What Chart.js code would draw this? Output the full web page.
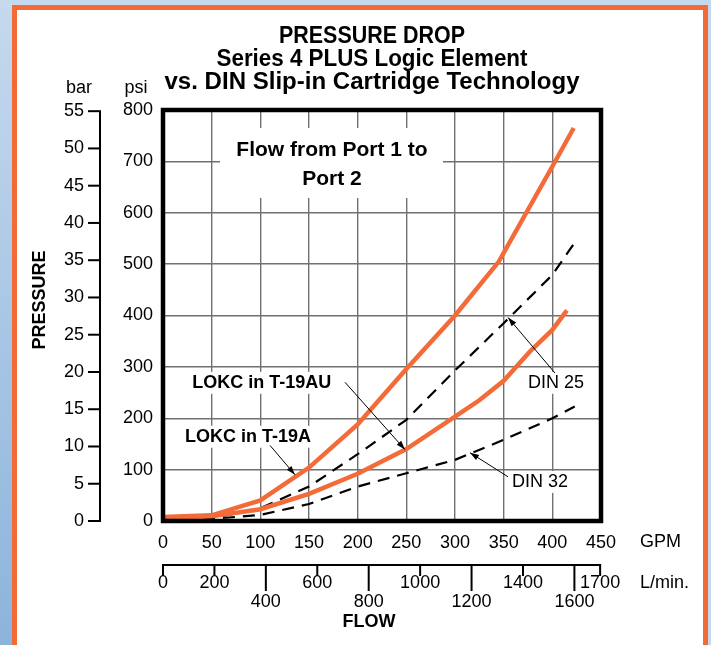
<!DOCTYPE html>
<html>
<head>
<meta charset="utf-8">
<script src="https://cdn.jsdelivr.net/npm/chart.js@4.4.1/dist/chart.umd.min.js"></script>
<style>
html, body { margin: 0; padding: 0; }
body { width: 711px; height: 645px; overflow: hidden; position: relative; background: #c5d9ee; }
#strip { position: absolute; left: 0; top: 0; width: 12px; height: 645px; background: linear-gradient(#c6d9ee, #8cb4db); }
#frame { position: absolute; left: 12px; top: 5px; width: 686px; height: 700px; border: 5px solid #f26a35; background: #fff; }
#wrap { position: absolute; left: 0; top: 0; width: 711px; height: 645px; }
</style>
</head>
<body>
<div id="strip"></div>
<div id="frame"></div>
<div id="wrap"><canvas id="pd"></canvas></div>
<script>
// values (GPM / psi)
const t19aFlow  = [0, 50, 100, 150, 200, 250, 300, 345, 400, 422];
const t19aPsi   = [8, 11, 40, 104, 188, 296, 400, 505, 690, 765];
const t19auFlow = [0, 50, 100, 150, 200, 250, 300, 325, 350, 377, 400, 415];
const t19auPsi  = [6, 9, 23, 53, 92, 140, 203, 235, 273, 330, 372, 410];
const din25Flow = [0, 50, 100, 150, 200, 250, 300, 350, 400, 423];
const din25Psi  = [0, 5, 25, 67, 130, 197, 293, 385, 479, 542];
const din32Flow = [0, 50, 100, 150, 200, 250, 300, 350, 400, 423];
const din32Psi  = [0, 4, 12, 33, 67, 93, 119, 158, 200, 223];

// secondary axes
const barTicks = [0, 5, 10, 15, 20, 25, 30, 35, 40, 45, 50, 55];
const lpmTicks = [0, 200, 400, 600, 800, 1000, 1200, 1400, 1600, 1700];
const lpmLow   = [400, 800, 1200, 1600];   // labels on the lower row
const PSI_PER_BAR = 14.5038;
const LPM_PER_GPM = 3.78541;

const titleLines = ['PRESSURE DROP', 'Series 4 PLUS Logic Element', 'vs. DIN Slip-in Cartridge Technology'];
const titleWidths = [186, 311, 415];

const FONT = "'Liberation Sans', Arial, Helvetica, sans-serif";
const ORANGE = '#f26b38';

function pts(xs, ys) { return xs.map((x, i) => ({ x: x, y: ys[i] })); }

// labels + arrows (in GPM / psi units)
const notes = [
  { text: 'LOKC in T-19AU', x: 30, y: 269, bold: true, from: [187, 270], to: [248.6, 139] },
  { text: 'LOKC in T-19A', x: 22.6, y: 164, bold: true, from: [110, 147], to: [135.6, 90] },
  { text: 'DIN 25', x: 375, y: 269, bold: false, from: [402.7, 288], to: [354.5, 396] },
  { text: 'DIN 32', x: 358.6, y: 76, bold: false, from: [354.5, 86], to: [315.4, 133] }
];

function arrow(ctx, x1, y1, x2, y2) {
  ctx.beginPath();
  ctx.moveTo(x1, y1);
  ctx.lineTo(x2, y2);
  ctx.stroke();
  const a = Math.atan2(y2 - y1, x2 - x1);
  ctx.beginPath();
  ctx.moveTo(x2, y2);
  ctx.lineTo(x2 - 9 * Math.cos(a) + 3 * Math.sin(a), y2 - 9 * Math.sin(a) - 3 * Math.cos(a));
  ctx.lineTo(x2 - 9 * Math.cos(a) - 3 * Math.sin(a), y2 - 9 * Math.sin(a) + 3 * Math.cos(a));
  ctx.closePath();
  ctx.fill();
}

const extras = {
  id: 'extras',
  beforeDatasetsDraw(chart) {
    const { ctx, scales: { x, y } } = chart;
    ctx.save();
    ctx.fillStyle = '#fff';
    // box behind "Flow from Port 1 to Port 2"
    ctx.fillRect(220, 128, 223, 70);
    notes.forEach(n => {
      ctx.font = (n.bold ? 'bold ' : '') + '18px ' + FONT;
      const w = ctx.measureText(n.text).width;
      ctx.fillRect(x.getPixelForValue(n.x) - 3, y.getPixelForValue(n.y) - 11, w + 6, 22);
    });
    ctx.restore();
  },
  afterDatasetsDraw(chart) {
    const { ctx, chartArea: a, scales: { x, y } } = chart;
    ctx.save();
    // frame
    ctx.strokeStyle = '#000';
    ctx.lineWidth = 4.5;
    ctx.strokeRect(a.left, a.top, a.right - a.left, a.bottom - a.top);

    ctx.fillStyle = '#000';
    ctx.textBaseline = 'middle';
    ctx.textAlign = 'center';
    ctx.font = 'bold 21px ' + FONT;
    ctx.fillText('Flow from Port 1 to', 332, 150);
    ctx.fillText('Port 2', 332, 179);

    ctx.textAlign = 'left';
    ctx.lineWidth = 1;
    notes.forEach(n => {
      ctx.font = (n.bold ? 'bold ' : '') + '18px ' + FONT;
      ctx.fillText(n.text, x.getPixelForValue(n.x), y.getPixelForValue(n.y));
      arrow(ctx, x.getPixelForValue(n.from[0]), y.getPixelForValue(n.from[1]),
                 x.getPixelForValue(n.to[0]), y.getPixelForValue(n.to[1]));
    });
    ctx.restore();
  },
  afterDraw(chart) {
    const { ctx, scales: { x, y } } = chart;
    ctx.save();
    ctx.fillStyle = '#000';
    ctx.strokeStyle = '#000';

    // title, fitted to the widths of the original lines
    ctx.textAlign = 'center';
    ctx.textBaseline = 'middle';
    ctx.font = 'bold 23px ' + FONT;
    titleLines.forEach((t, i) => {
      const k = titleWidths[i] / ctx.measureText(t).width;
      ctx.save();
      ctx.translate(372, 37 + i * 23);
      ctx.scale(k, 1);
      ctx.fillText(t, 0, 0);
      ctx.restore();
    });

    // unit captions
    ctx.font = '18px ' + FONT;
    ctx.fillText('bar', 79, 88);
    ctx.fillText('psi', 136, 88);

    // bar axis
    const bx = 100;
    ctx.lineWidth = 2;
    ctx.beginPath();
    ctx.moveTo(bx, y.getPixelForValue(0));
    ctx.lineTo(bx, y.getPixelForValue(55 * PSI_PER_BAR));
    ctx.stroke();
    ctx.textAlign = 'right';
    barTicks.forEach(b => {
      const py = y.getPixelForValue(b * PSI_PER_BAR);
      ctx.beginPath();
      ctx.moveTo(bx - 12, py);
      ctx.lineTo(bx + 1, py);
      ctx.stroke();
      ctx.fillText(String(b), bx - 16, py);
    });

    // L/min axis
    const ly = 565;
    ctx.beginPath();
    ctx.moveTo(x.getPixelForValue(0) - 1, ly);
    ctx.lineTo(x.getPixelForValue(1700 / LPM_PER_GPM) + 1, ly);
    ctx.stroke();
    ctx.textAlign = 'center';
    lpmTicks.forEach(v => {
      const px = x.getPixelForValue(v / LPM_PER_GPM);
      const low = lpmLow.includes(v);
      ctx.beginPath();
      ctx.moveTo(px, ly);
      ctx.lineTo(px, ly + (low ? 26 : 11));
      ctx.stroke();
      ctx.fillText(String(v), px, low ? 602 : 583);
    });

    // axis captions
    ctx.textAlign = 'left';
    ctx.fillText('GPM', 640, 542);
    ctx.fillText('L/min.', 640, 583);
    ctx.textAlign = 'center';
    ctx.font = 'bold 18px ' + FONT;
    ctx.fillText('FLOW', 369, 622);
    ctx.translate(40, 300);
    ctx.rotate(-Math.PI / 2);
    ctx.fillText('PRESSURE', 0, 0);
    ctx.restore();
  }
};

Chart.defaults.font.family = FONT;
Chart.defaults.color = '#000';

new Chart(document.getElementById('pd'), {
  type: 'scatter',
  data: {
    datasets: [
      { label: 'LOKC in T-19A', data: pts(t19aFlow, t19aPsi), showLine: true, borderColor: ORANGE, borderWidth: 4.5, pointRadius: 0 },
      { label: 'LOKC in T-19AU', data: pts(t19auFlow, t19auPsi), showLine: true, borderColor: ORANGE, borderWidth: 4.5, pointRadius: 0 },
      { label: 'DIN 25', data: pts(din25Flow, din25Psi), showLine: true, borderColor: '#000', borderWidth: 2.2, borderDash: [12, 8], pointRadius: 0 },
      { label: 'DIN 32', data: pts(din32Flow, din32Psi), showLine: true, borderColor: '#000', borderWidth: 2.2, borderDash: [12, 8], pointRadius: 0 }
    ]
  },
  options: {
    responsive: true,
    maintainAspectRatio: false,
    animation: false,
    layout: { padding: { left: 103, right: 110, top: 110, bottom: 84 } },
    plugins: { legend: { display: false }, title: { display: false }, tooltip: { enabled: false } },
    scales: {
      x: {
        type: 'linear', min: 0, max: 450,
        ticks: { stepSize: 50, padding: 11, font: { size: 18 }, color: '#000' },
        grid: { color: '#707070', lineWidth: 1.4, drawTicks: false },
        border: { display: false },
        afterFit(s) { s.height = 40; }
      },
      y: {
        type: 'linear', min: 0, max: 800,
        ticks: { stepSize: 100, padding: 10, font: { size: 18 }, color: '#000' },
        grid: { color: '#707070', lineWidth: 1.4, drawTicks: false },
        border: { display: false },
        afterFit(s) { s.width = 60; }
      }
    }
  },
  plugins: [extras]
});
</script>
</body>
</html>
